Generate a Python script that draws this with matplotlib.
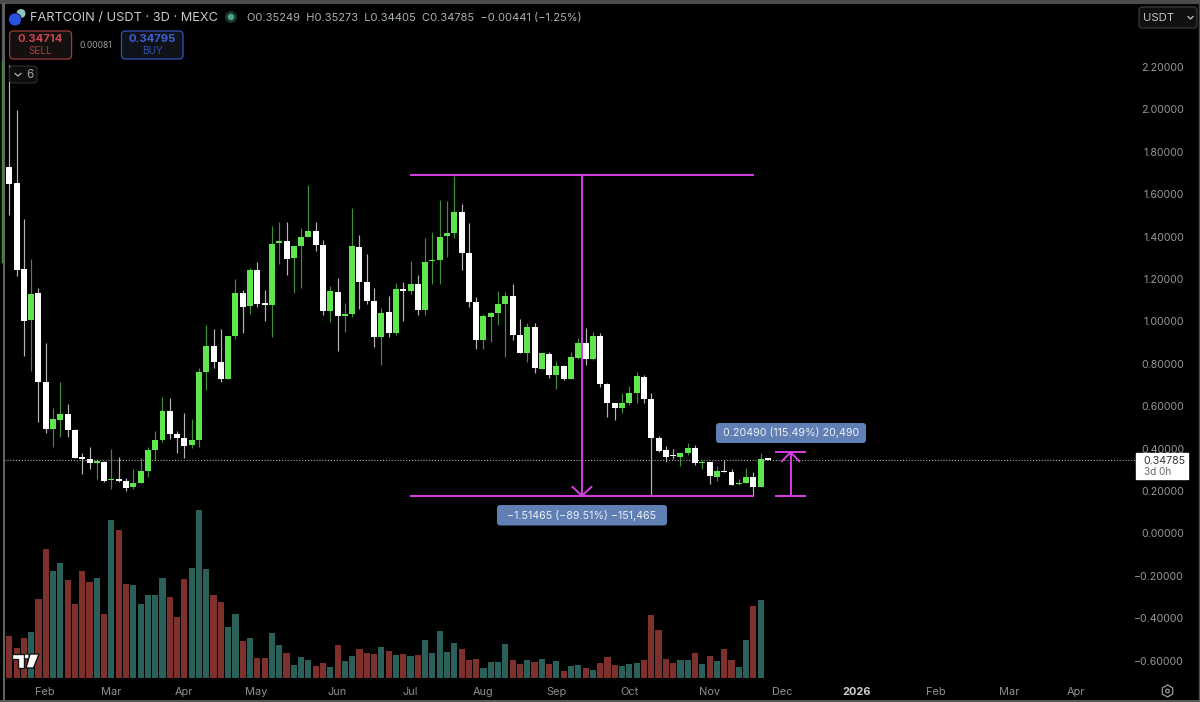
import matplotlib
matplotlib.use("Agg")
import matplotlib.pyplot as plt
from matplotlib.patches import FancyBboxPatch, Circle, Polygon, RegularPolygon

plt.rcParams['font.family'] = ['Inter', 'DejaVu Sans']

# FARTCOIN / USDT 3D candles
opens = [1.730, 1.651, 1.246, 1.007, 1.134, .716, .492, .536, .562, .488,
         .359, .353, .334, .337, .250, .255, .247, .217, .239, .294,
         .393, .439, .579, .467, .450, .415, .442, .760, .886, .807,
         .730, .930, 1.136, 1.073, 1.241, 1.085, 1.079, 1.371, 1.379, 1.298,
         1.356, 1.398, 1.428, 1.359, 1.051, 1.139, 1.027, 1.033, 1.353, 1.184,
         1.096, .928, 1.043, .944, 1.151, 1.142, 1.175, 1.055, 1.283, 1.290,
         1.403, 1.419, 1.516, 1.321, 1.090, .911, 1.022, 1.041, 1.082, 1.121,
         .937, .851, .975, .777, .848, .749, .790, .728, .829, .897,
         .823, .933, .705, .614, .592, .617, .664, .736, .636, .450,
         .393, .368, .360, .378, .401, .332, .337, .268, .294, .290,
         .232, .238, .268, .220, .35249]
closes = [1.648, 1.242, 1.002, 1.131, .716, .492, .538, .562, .488, .357,
          .351, .331, .338, .249, .257, .249, .216, .239, .294, .393,
          .439, .579, .467, .450, .414, .442, .760, .886, .809, .730,
          .931, 1.134, 1.070, 1.241, 1.084, 1.079, 1.365, 1.379, 1.296, 1.354,
          1.398, 1.428, 1.359, 1.051, 1.142, 1.024, 1.035, 1.354, 1.184, 1.096,
          .928, 1.040, .945, 1.151, 1.145, 1.175, 1.055, 1.280, 1.290, 1.397,
          1.417, 1.516, 1.321, 1.092, .911, 1.026, 1.041, 1.082, 1.121, .937,
          .851, .975, .779, .850, .749, .790, .727, .831, .897, .823,
          .933, .705, .614, .590, .617, .664, .743, .634, .450, .390,
          .362, .364, .379, .401, .331, .337, .269, .293, .290, .230,
          .239, .268, .220, .349, .34785]
highs = [2.21, 1.997, 1.481, 1.293, 1.156, .897, .593, .716, .610, .491,
         .378, .406, .349, .343, .397, .359, .260, .302, .354, .409,
         .485, .642, .637, .485, .566, .538, .779, .983, .963, .963,
         .931, 1.200, 1.148, 1.253, 1.282, 1.148, 1.450, 1.470, 1.470, 1.356,
         1.439, 1.642, 1.470, 1.384, 1.169, 1.203, 1.085, 1.533, 1.409, 1.318,
         1.156, 1.062, 1.121, 1.183, 1.187, 1.283, 1.217, 1.392, 1.423, 1.573,
         1.568, 1.686, 1.554, 1.463, 1.115, 1.035, 1.046, 1.142, 1.137, 1.176,
         1.010, .991, .991, .853, .857, .815, .794, .854, .923, .967,
         .952, .947, .711, .617, .661, .695, .761, .747, .664, .459,
         .412, .397, .381, .425, .415, .346, .338, .318, .346, .302,
         .257, .310, .288, .378, .35273]
lows = [1.502, 1.216, .837, .768, .527, .472, .409, .456, .453, .354,
        .279, .304, .255, .241, .209, .244, .200, .208, .236, .264,
        .343, .430, .444, .381, .354, .403, .409, .676, .779, .716,
        .730, .915, .944, 1.033, 1.070, 1.003, .925, 1.269, 1.219, 1.132,
        1.159, 1.397, 1.334, 1.029, .999, .860, .950, 1.019, 1.058, 1.084,
        .881, .793, .925, .934, 1.003, 1.128, 1.032, 1.030, 1.176, 1.175,
        1.305, 1.395, 1.244, 1.070, .871, .871, .901, .985, .830, .912,
        .849, .809, .755, .774, .732, .681, .724, .727, .821, .794,
        .818, .689, .551, .535, .566, .606, .617, .614, .176, .386,
        .337, .351, .318, .368, .323, .302, .233, .246, .288, .227,
        .228, .236, .176, .217, .34405]
# volume has no scale in the picture, so relative units
volumes = [128, 90, 120, 140, 239, 389, 321, 345, 295, 222,
           322, 288, 300, 193, 475, 444, 282, 281, 223, 250,
           249, 301, 244, 183, 299, 330, 505, 327, 251, 228,
           154, 193, 112, 122, 61, 61, 137, 100, 76, 40,
           63, 54, 36, 45, 35, 99, 52, 67, 89, 76,
           74, 93, 81, 70, 73, 67, 71, 114, 76, 142,
           79, 107, 89, 56, 57, 30, 49, 50, 102, 56,
           42, 54, 49, 57, 42, 53, 23, 36, 40, 31,
           25, 45, 63, 39, 37, 43, 46, 56, 190, 146,
           59, 46, 55, 55, 77, 43, 68, 53, 87, 55,
           35, 114, 216, 235, 2]

month_pos = [4.9, 13.9, 23.9, 33.9, 45, 55, 65, 75, 85, 96, 106, 116.1, 127, 137, 146.2]
month_labels = ['Feb', 'Mar', 'Apr', 'May', 'Jun', 'Jul', 'Aug', 'Sep', 'Oct', 'Nov', 'Dec',
                '2026', 'Feb', 'Mar', 'Apr']
price_ticks = [2.2, 2.0, 1.8, 1.6, 1.4, 1.2, 1.0, 0.8, 0.6, 0.4, 0.2, 0.0, -0.2, -0.4, -0.6]

# the two measure tools
drop_top = 1.69
drop_low = 0.1774
rise_top = 0.3823
last_price = 0.34785

GREEN = '#5fe64f'
GREEN_WICK = '#3f8f38'
WHITE_WICK = '#b4b4b4'
RED_VOL = '#7d302c'
TEAL_VOL = '#2b5f59'
MAGENTA = '#d93fe6'
BADGE = '#5f7fb5'

fig = plt.figure(figsize=(12, 7.02), dpi=100, facecolor='black')
ax = fig.add_axes([0, 0, 1, 1], facecolor='black')
step = 7.295
ax.set_xlim(-9.3 / step, (1200 - 9.3) / step)
ax.set_ylim(-0.7953, 2.5160)

xs = list(range(len(opens)))
up = [c >= o for o, c in zip(opens, closes)]

# volume on its own hidden scale, underneath the candles
vol = ax.twinx()
vol.set_ylim(-71, 2035)
vol.set_zorder(0)
vol.axis('off')
vol.bar(xs, volumes, width=0.84, linewidth=0,
        color=[TEAL_VOL if u else RED_VOL for u in up])
ax.set_zorder(1)
ax.patch.set_alpha(0)
fig.patch.set_facecolor('black')

ax.vlines(xs, lows, highs, colors=[GREEN_WICK if u else WHITE_WICK for u in up], linewidth=0.85)
ax.bar(xs, [max(abs(c - o), 0.006) for o, c in zip(opens, closes)],
       bottom=[min(o, c) for o, c in zip(opens, closes)],
       width=0.82, linewidth=0, color=[GREEN if u else 'white' for u in up], zorder=3)

ax.hlines(last_price, -0.7, 154.6, colors='#b0b0b0', linestyles=(0, (1, 1.6)), linewidth=0.8, zorder=2)

# big drop measure
ax.hlines([drop_top, drop_low], 54.9, 102.1, colors=MAGENTA, linewidth=1.4, zorder=4)
ax.vlines(78.5, drop_low, drop_top, colors=MAGENTA, linewidth=1.4, zorder=4)
ax.plot([77.2, 78.5, 79.8], [drop_low + 0.042, drop_low, drop_low + 0.042], color=MAGENTA, lw=1.4, zorder=4)

# rebound measure
ax.hlines([rise_top, drop_low], 105, 109.2, colors=MAGENTA, linewidth=1.4, zorder=4)
ax.vlines(107.1, drop_low, rise_top, colors=MAGENTA, linewidth=1.4, zorder=4)
ax.plot([105.9, 107.1, 108.3], [rise_top - 0.042, rise_top, rise_top - 0.042], color=MAGENTA, lw=1.4, zorder=4)

ax.yaxis.tick_right()
ax.set_yticks(price_ticks)
ax.set_yticklabels([f'{p:.5f}'.replace('-', '\u2212') for p in price_ticks], ha='right')
ax.tick_params(axis='y', length=0, pad=-11.5, labelsize=7.6, labelcolor='#979797')
ax.set_xticks(month_pos)
ax.set_xticklabels(month_labels)
ax.tick_params(axis='x', length=0, pad=-10.8, labelsize=7.9, labelcolor='#8f8f8f')
ax.get_xticklabels()[11].set_fontweight('bold')
ax.get_xticklabels()[11].set_color('#cfcfcf')
for s in ax.spines.values():
    s.set_visible(False)

# screenshot chrome, in pixels
ui = fig.add_axes([0, 0, 1, 1], facecolor='none', zorder=5)
ui.set_xlim(0, 1200)
ui.set_ylim(702, 0)
ui.axis('off')


def box(x0, y0, x1, y1, fc, ec, r=3, lw=0.9):
    ui.add_patch(FancyBboxPatch((x0, y0), x1 - x0, y1 - y0, boxstyle=f'round,pad=0,rounding_size={r}',
                                fc=fc, ec=ec, lw=lw))


# window frame
ui.plot([0, 1200], [2, 2], color='#4c4c4c', lw=3)
ui.plot([4, 4], [4, 700], color='#777777', lw=1.2)
ui.plot([2, 2], [60, 262], color='#3f8f38', lw=1.0)
ui.plot([2, 2], [4, 60], color='#555555', lw=1.0)
ui.plot([1198.5, 1198.5], [4, 700], color='#4c4c4c', lw=1.0)
ui.plot([0, 1200], [700.5, 700.5], color='#6a6a6a', lw=1.2)

# header
ui.add_patch(Circle((21, 13.5), 4.5, fc='#8fc4c0', ec='none'))
ui.add_patch(Circle((15, 19.5), 6.5, fc='#2a50e0', ec='black', lw=0.5))
ui.text(29.5, 18, 'FARTCOIN / USDT \u00b7 3D \u00b7 MEXC', color='#c9c9c9', fontsize=9.2, va='center', ha='left')
ui.add_patch(Circle((231, 17), 6, fc='#17352e', ec='none'))
ui.add_patch(Circle((231, 17), 3.3, fc='#4f9f88', ec='none'))
ui.text(247, 18, 'O0.35249  H0.35273  L0.34405  C0.34785  \u22120.00441 (\u22121.25%)', color='#a9b3b1',
        fontsize=8.0, va='center', ha='left')

box(9.6, 31, 71.6, 59, '#141010', '#a23c3c', r=4)
ui.text(40.6, 39.5, '0.34714', color='#c9464c', fontsize=8.2, ha='center', va='center', fontweight='bold')
ui.text(40.6, 51, 'SELL', color='#a83c3c', fontsize=7.2, ha='center', va='center')
ui.text(79, 45, '0.00081', color='#9a9a9a', fontsize=6.2, ha='left', va='center')
box(121.5, 31, 183, 59, '#10121a', '#3450b8', r=4)
ui.text(152, 39.5, '0.34795', color='#3e5fd0', fontsize=8.2, ha='center', va='center', fontweight='bold')
ui.text(152, 51, 'BUY', color='#3450a8', fontsize=7.2, ha='center', va='center')

box(9.6, 66, 37, 83, '#0c0c0c', '#2b2b2b', r=3)
ui.plot([15, 18, 21], [73.5, 76, 73.5], color='#b5b5b5', lw=0.9)
ui.text(30, 75, '6', color='#a8a8a8', fontsize=8.4, ha='center', va='center')

box(1139, 7, 1197, 28, '#101010', '#3a3a3a', r=3)
ui.text(1143, 18, 'USDT', color='#c2c2c2', fontsize=8.2, ha='left', va='center')
ui.plot([1188, 1190.5, 1193], [16.5, 19, 16.5], color='#c2c2c2', lw=0.9)

# last price tag
ui.fill([1136, 1188, 1188, 1136], [453, 453, 479, 479], color='white')
ui.text(1143.5, 460.5, '0.34785', color='#333333', fontsize=7.6, ha='left', va='center')
ui.text(1143.5, 472, '3d 0h', color='#6b6b6b', fontsize=7.2, ha='left', va='center')

# measure badges
box(497, 505, 667, 525.5, BADGE, 'none', r=3)
ui.text(582, 515.5, '\u22121.51465 (\u221289.51%) \u2212151,465', color='#eef1f6', fontsize=7.7, ha='center', va='center')
box(716, 423, 866, 443, BADGE, 'none', r=3)
ui.text(791, 433, '0.20490 (115.49%) 20,490', color='#eef1f6', fontsize=7.7, ha='center', va='center')

# tradingview mark
ui.add_patch(Polygon([(12, 654), (23.5, 654), (23.5, 668), (17.5, 668), (17.5, 659), (12, 659)], fc='white', ec='#151515', lw=1))
ui.add_patch(Circle((26.8, 656.5), 2.4, fc='white', ec='#151515', lw=0.6))
ui.add_patch(Polygon([(30, 654), (39, 654), (33.5, 668), (26, 668)], fc='white', ec='#151515', lw=1))

# settings gear
ui.add_patch(RegularPolygon((1167.5, 691), 6, radius=6, orientation=0, fc='none', ec='#9a9a9a', lw=0.9))
ui.add_patch(Circle((1167.5, 691), 1.8, fc='none', ec='#9a9a9a', lw=0.9))

fig.savefig('out.png', dpi=100, facecolor='black')
